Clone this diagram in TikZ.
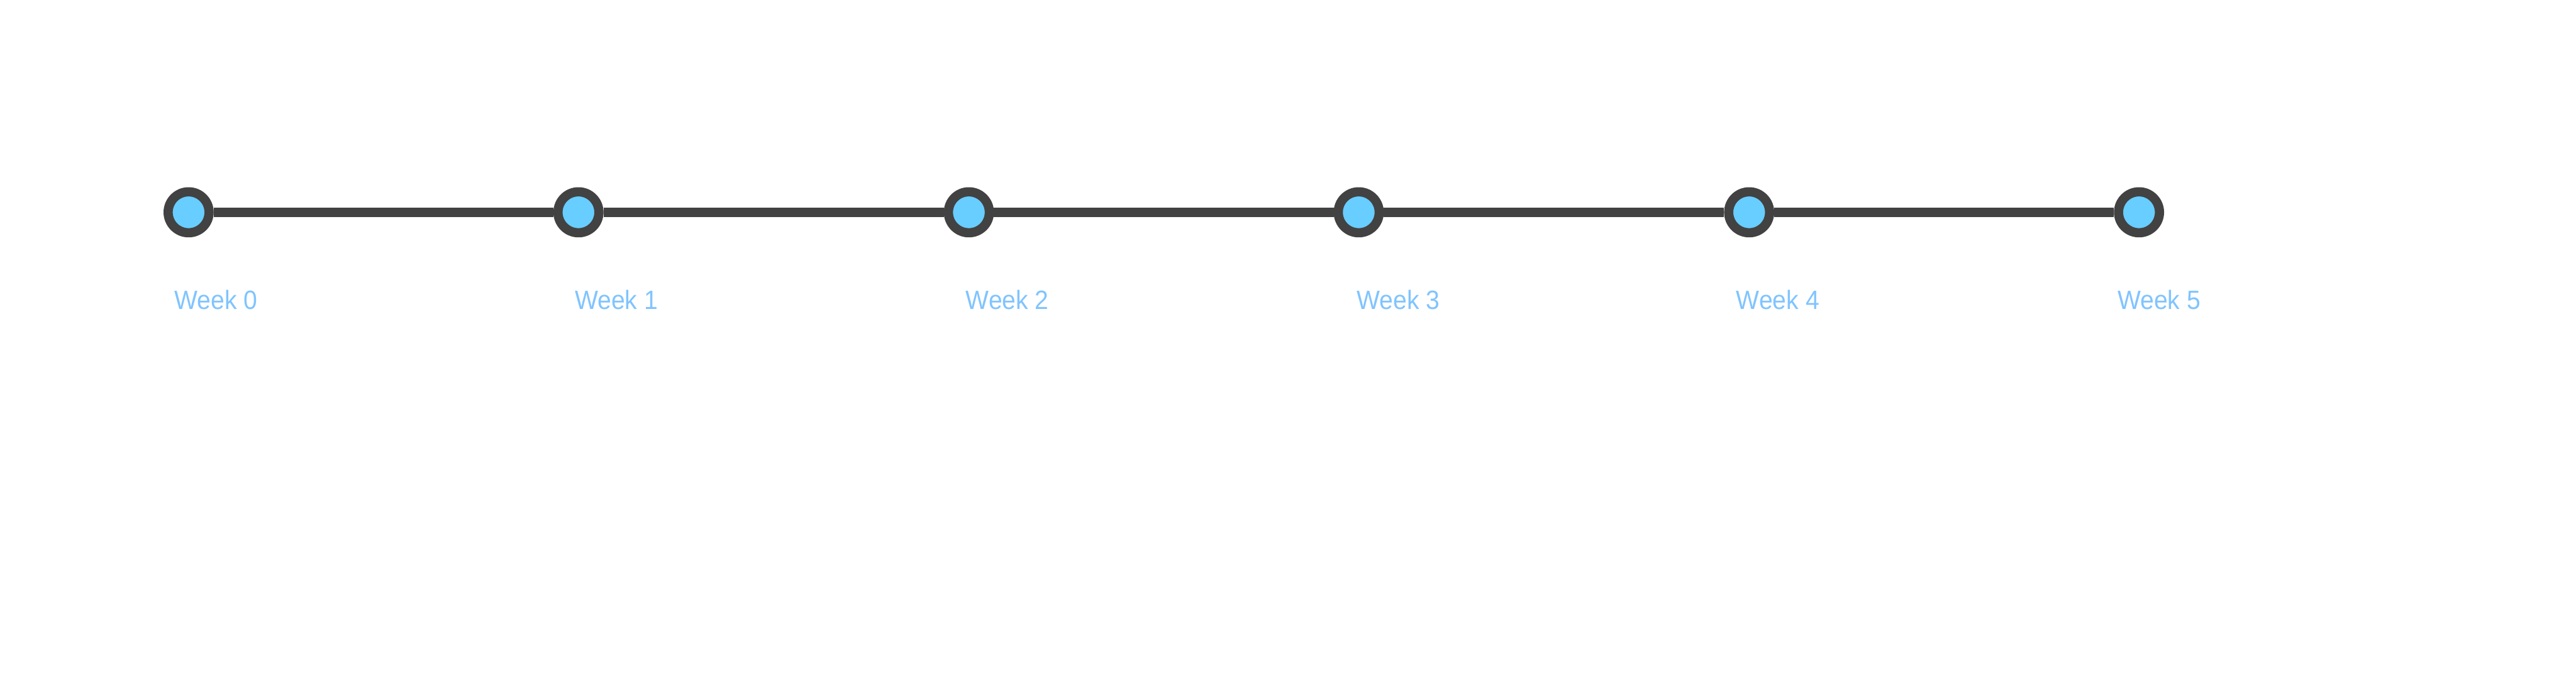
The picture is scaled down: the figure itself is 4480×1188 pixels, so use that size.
\documentclass[tikz,border=0pt]{standalone}
\usepackage{fontspec}
\setmainfont{Liberation Sans}
\newfontfamily\narrowfont{Liberation Sans}[FakeStretch=0.93]
\definecolor{ringgray}{RGB}{66,66,66}
\definecolor{dotblue}{RGB}{104,205,255}
\definecolor{weekblue}{RGB}{128,196,255}
\begin{document}
\begin{tikzpicture}[x=0.25pt,y=-0.25pt,
  milestone/.style={circle,draw=ringgray,fill=dotblue,line width=4pt,minimum size=17.8pt,inner sep=0pt},
  track/.style={draw=ringgray,line width=4.25pt},
  weeklabel/.style={anchor=base west,inner sep=0pt,text=weekblue,font=\narrowfont\fontsize{11.5pt}{14pt}\selectfont},
  phasetitle/.style={anchor=base west,inner sep=0pt,text=white,font=\fontsize{12.75pt}{15pt}\selectfont},
  phasedesc/.style={anchor=base west,inner sep=0pt,text=white,font=\narrowfont\fontsize{11pt}{14.17pt}\selectfont}]
\useasboundingbox[fill=white] (0,0) rectangle (4480,1188);
\foreach \i/\x in {0/328,1/1006,2/1685,3/2363,4/3042,5/3720}
  \node[milestone] (c\i) at (\x,369) {};
\foreach \a/\b in {0/1,1/2,2/3,3/4,4/5}
  \draw[track] (c\a) -- (c\b);
% week labels
\node[weeklabel] (w0) at (303,538) {Week 0};
\node[weeklabel] (w1) at (999,538) {Week 1};
\node[weeklabel] (w2) at (1679,538) {Week 2};
\node[weeklabel] (w3) at (2359,538) {Week 3};
\node[weeklabel] (w4) at (3019,538) {Week 4};
\node[weeklabel] (w5) at (3682,538) {Week 5};
% titles
\node[phasetitle] (t0) at (303,655) {Planning};
\node[phasetitle] (t1) at (999,655) {Survey \& Interview};
\node[phasetitle] (t2) at (1679,655) {Affinity Diagram};
\node[phasetitle] (t3) at (2359,655) {Modeling \& Wireframing};
\node[phasetitle] (t4) at (3019,655) {Wall Walk Implications};
\node[phasetitle] (t5) at (3682,655) {Visioning and Prototype};
% descriptions
\node[phasedesc] (d0) at (303,738) {\vtop{\hbox{Study Design \&}\hbox{Prepare for interview}\hbox{questions}}};
\node[phasedesc] (d1) at (999,738) {\vtop{\hbox{Gather quantitative and}\hbox{statistic data through}\hbox{Surveys and semi-}\hbox{structure interviews}}};
\node[phasedesc] (d2) at (1679,738) {\vtop{\hbox{After Analysis and}\hbox{Interpretation the data,}\hbox{we create an affinity}\hbox{diagram}}};
\node[phasedesc] (d3) at (2359,738) {\vtop{\hbox{We created a Decision}\hbox{Point model and}\hbox{personas to illustrate the}\hbox{key factors}}};
\node[phasedesc] (d4) at (3019,738) {\vtop{\hbox{Receiving feedback from}\hbox{our client and professor}\hbox{to further iterate on our}\hbox{prototypes}}};
\node[phasedesc] (d5) at (3682,738) {\vtop{\hbox{Sketched 7 hot ideas abd}\hbox{built up Low-fi prototype}\hbox{for our solution}}};
\end{tikzpicture}
\end{document}
